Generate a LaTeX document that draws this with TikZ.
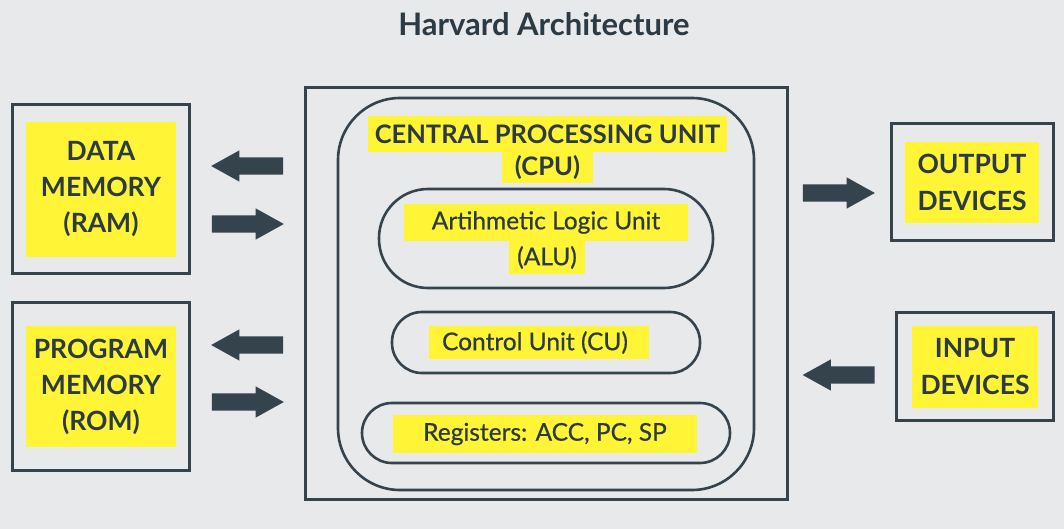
\documentclass[tikz,border=0pt]{standalone}
\usepackage{fontspec}
\setmainfont{Lato}
\newfontfamily\medfont[FakeBold=0.6]{Lato}
\usetikzlibrary{shapes.arrows}
\definecolor{bgc}{HTML}{E8E9EB}
\definecolor{linec}{HTML}{34434C}
\definecolor{txtc}{HTML}{2B3A43}
\definecolor{hl}{HTML}{FFF436}
\begin{document}
\begin{tikzpicture}[x=1pt,y=-1pt,
  frame/.style={draw=linec,line width=3pt,rectangle,inner sep=0pt},
  capsule/.style={draw=linec,line width=2.6pt,rectangle,inner sep=0pt},
  hlbox/.style={fill=hl,inner sep=0pt,text=txtc,align=center},
  bigtxt/.style={font=\fontsize{26.5}{36}\selectfont\bfseries},
  cputxt/.style={font=\fontsize{25.5}{34}\selectfont\bfseries},
  devtxt/.style={font=\fontsize{26.5}{37}\selectfont\bfseries},
  midtxt/.style={font=\fontsize{24.5}{33}\medfont},
  blockarrow/.style={single arrow,fill=linec,draw=none,inner sep=8.5pt,
    single arrow head extend=7pt,single arrow tip angle=58,
    single arrow head indent=0pt,minimum height=72pt}]
\path[fill=bgc,use as bounding box] (0,0) rectangle (1064,529);
\node[text=txtc,font=\fontsize{31}{34}\selectfont\bfseries] (title) at (544,24) {Harvard Architecture};
% left memory boxes
\node[frame,minimum width=177,minimum height=168] (dmbox) at (100.5,189) {};
\node[hlbox,bigtxt,minimum width=150,minimum height=135] (dmtxt) at (101,189.5) {DATA\\MEMORY\\(RAM)};
\node[frame,minimum width=177,minimum height=168] (pmbox) at (100.5,386) {};
\node[hlbox,bigtxt,minimum width=150,minimum height=121] (pmtxt) at (101,386.5) {PROGRAM\\MEMORY\\(ROM)};
% CPU
\node[frame,minimum width=482,minimum height=411] (cpuframe) at (546,293.5) {};
\node[capsule,rounded corners=62pt,minimum width=416,minimum height=392] (cpu) at (546,294) {};
\node[hlbox,cputxt,minimum width=359,minimum height=36] (cpu1) at (547.5,134) {CENTRAL PROCESSING UNIT};
\node[hlbox,cputxt,minimum width=91,minimum height=31] (cpu2) at (547.5,167.5) {(CPU)};
\node[capsule,rounded corners=49pt,minimum width=334,minimum height=99] (alu) at (546,238.5) {};
\node[hlbox,midtxt,minimum width=284,minimum height=37] (alu1) at (546,222.5) {Artihmetic Logic Unit};
\node[hlbox,midtxt,minimum width=76,minimum height=33] (alu2) at (547,257.5) {(ALU)};
\node[capsule,rounded corners=30pt,minimum width=308,minimum height=61] (cu) at (546,342.5) {};
\node[hlbox,midtxt,minimum width=220,minimum height=33] (cutxt) at (539,342.5) {Control Unit (CU)\hspace{8pt}};
\node[capsule,rounded corners=30pt,minimum width=368,minimum height=60] (reg) at (546,433) {};
\node[hlbox,midtxt,minimum width=304,minimum height=38] (regtxt) at (545,434) {Registers: ACC, PC, SP};
% right device boxes
\node[frame,minimum width=162,minimum height=116] (outbox) at (972,182) {};
\node[hlbox,devtxt,minimum width=134,minimum height=81] (outtxt) at (972,182.5) {OUTPUT\\DEVICES};
\node[frame,minimum width=157,minimum height=108] (inbox) at (974.5,366) {};
\node[hlbox,devtxt,minimum width=126,minimum height=82] (intxt) at (975,367) {INPUT\\DEVICES};
% block arrows
\node[blockarrow,shape border rotate=180] (a1) at (255,166) {};
\node[blockarrow] (a2) at (240,224) {};
\node[blockarrow,shape border rotate=180] (a3) at (255,345) {};
\node[blockarrow] (a4) at (240,402) {};
\node[blockarrow] (a5) at (831,193) {};
\node[blockarrow,shape border rotate=180] (a6) at (846.5,375) {};
\end{tikzpicture}
\end{document}
